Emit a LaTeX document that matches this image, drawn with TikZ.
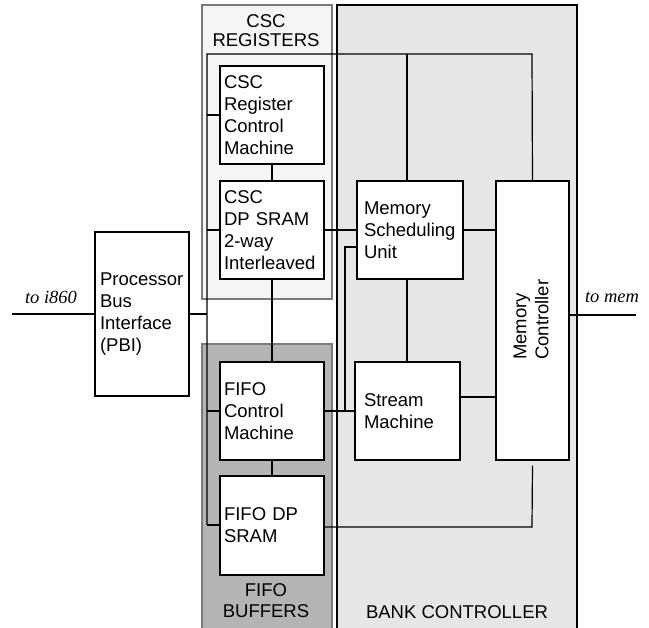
\documentclass[tikz,border=0pt]{standalone}
\usepackage{fontspec}
\setmainfont{Liberation Sans}
\newfontfamily\seriffont{Liberation Serif}
\usetikzlibrary{calc}
\definecolor{cscfill}{HTML}{F5F5F5}
\definecolor{bankfill}{HTML}{E6E6E6}
\definecolor{fifofill}{HTML}{B4B4B4}
\definecolor{panelgray}{HTML}{7A7A7A}
\begin{document}
\begin{tikzpicture}[x=1pt,y=-1pt,
  blk/.style={draw=black, fill=white, line width=1.4pt, rectangle, align=left,
    inner ysep=0pt, font=\fontsize{18.5}{22}\selectfont},
  wire/.style={draw=black, line width=1.2pt},
  lbl/.style={align=center, inner sep=0pt, font=\fontsize{18.5}{21}\selectfont},
  ext/.style={inner sep=0pt, font=\seriffont\itshape\fontsize{18.5}{22}\selectfont}]
\useasboundingbox (0,0) rectangle (649,628);
% panels
\fill[cscfill] (202,5) rectangle (332,299);
\draw[panelgray, line width=1.6pt] (202,5) rectangle (332,299);
\fill[fifofill] (202,344) rectangle (332,628);
\draw[panelgray, line width=1.6pt] (202,628) -- (202,344) -- (332,344) -- (332,628);
\fill[bankfill] (337,5) rectangle (577,628);
\draw[black, line width=1.2pt] (337,628) -- (337,5) -- (577,5) -- (577,628);
% panel labels
\node[lbl, font=\fontsize{18.5}{19}\selectfont] (lcsc) at (266,31) {CSC\\REGISTERS};
\node[lbl] (lfifo) at (266,601) {FIFO\\BUFFERS};
\node[lbl] (lbank) at (457,612) {BANK CONTROLLER};
% boxes
\node[blk, inner xsep=4pt, text width=96pt, minimum height=98pt] (csr) at (272,115) {CSC\\Register\\Control\\Machine};
\node[blk, inner xsep=4pt, text width=96pt, minimum height=98pt] (dp) at (272,230) {CSC\\DP SRAM\\2-way\\Interleaved};
\node[blk, inner xsep=4pt, text width=96pt, minimum height=98pt] (fc) at (272,411) {FIFO\\Control\\Machine};
\node[blk, inner xsep=4pt, text width=96pt, minimum height=99pt] (fd) at (272,525.5) {FIFO DP\\SRAM};
\node[blk, inner xsep=5pt, text width=84pt, minimum height=164pt] (pbi) at (142,314) {Processor\\Bus\\Interface\\(PBI)};
\node[blk, inner xsep=7pt, text width=92pt, minimum height=98pt] (msu) at (410,230) {Memory\\Scheduling\\Unit};
\node[blk, inner xsep=9pt, text width=87pt, minimum height=98pt] (sm) at (407.5,411) {Stream\\Machine};
\node[blk, minimum width=73pt, minimum height=279pt] (mc) at (532.5,320.5) {};
\node[rotate=90, align=left, anchor=west, inner sep=0pt, font=\fontsize{18.5}{22}\selectfont] (mctext) at (531,360) {Memory\\Controller};
% external labels
\node[ext] (ti) at (51,297) {to i860};
\node[ext] (tm) at (612,297) {to mem};
% coordinates
\coordinate (bl) at (207,54);
\coordinate (bv) at (407,54);
\coordinate (br) at (532,54);
\coordinate (bb) at (207,525);
\coordinate (pj) at (207,314);
\coordinate (sj) at (345,411);
\coordinate (sk) at (345,247);
\coordinate (mj) at (0,397);
\coordinate (fj) at (532,527);
\coordinate (i860) at (12,314);
\coordinate (mem) at (636,315);
% connectors
\draw[wire] (bb) -- (bl) -- (br) -- (mc.north);
\draw[wire] (bv) -- (bv |- msu.north);
\draw[wire] (bl |- csr.west) -- (csr.west);
\draw[wire] (bl |- dp.west) -- (dp.west);
\draw[wire] (bl |- fc.west) -- (fc.west);
\draw[wire] (bb) -- (bb -| fd.west);
\draw[wire] (pbi.east) -- (pj);
\draw[wire] (csr.south) -- (dp.north);
\draw[wire] (dp.south) -- (fc.north);
\draw[wire] (fc.south) -- (fd.north);
\draw[wire] (dp.east) -- (msu.west |- dp.east);
\draw[wire] (msu.east) -- (msu.east -| mc.west);
\draw[wire] (fc.east) -- (fc.east -| sm.west);
\draw[wire] (sj) -- (sk) -- (sk -| msu.west);
\draw[wire] (bv |- msu.south) -- (bv |- sm.north);
\draw[wire] (mj -| sm.east) -- (mj -| mc.west);
\draw[wire] (fj -| fd.east) -- (fj) -- ($(mc.south)+(0,5)$);
\draw[wire] (i860) -- (i860 -| pbi.west);
\draw[wire] (mem -| mc.east) -- (mem);
\end{tikzpicture}
\end{document}
